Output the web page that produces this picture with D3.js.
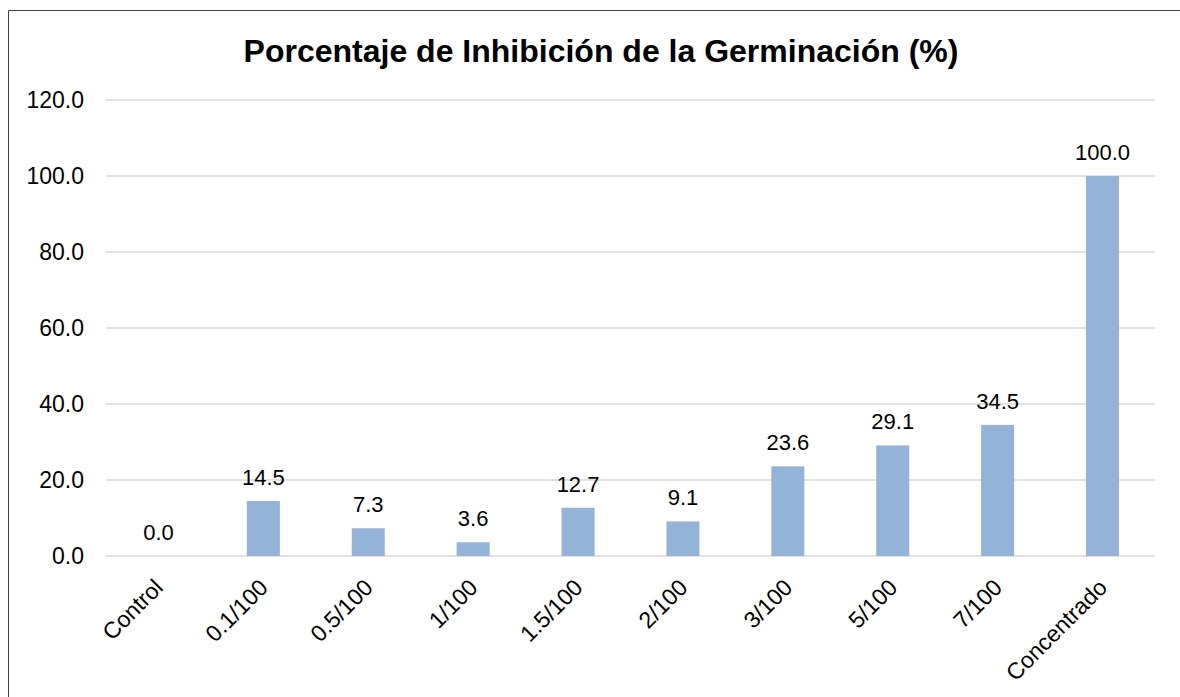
<!DOCTYPE html>
<html>
<head>
<meta charset="utf-8">
<script src="https://cdn.jsdelivr.net/npm/d3@7"></script>
<style>
  html, body { margin: 0; padding: 0; background: #fff; }
  svg { display: block; font-family: Arial, "Liberation Sans", sans-serif; }
</style>
</head>
<body>
<div id="chart"></div>
<script>
// Porcentaje de inhibición
const categories = ['Control', '0.1/100', '0.5/100', '1/100', '1.5/100', '2/100', '3/100', '5/100', '7/100', 'Concentrado'];
const inhibition = [0.0, 14.5, 7.3, 3.6, 12.7, 9.1, 23.6, 29.1, 34.5, 100.0];
const yTicks = [0, 20, 40, 60, 80, 100, 120];
const titleText = 'Porcentaje de Inhibición de la Germinación (%)';

const W = 1180, H = 697;
const margin = { top: 100, right: 25, bottom: 141, left: 106 };

const svg = d3.select('#chart').append('svg')
  .attr('width', W).attr('height', H);

// chart frame (only left and top edges are visible in the crop)
svg.append('path')
  .attr('d', `M8.5,${H} L8.5,10.5 L${W},10.5`)
  .attr('fill', 'none').attr('stroke', '#404040').attr('stroke-width', 1);

svg.append('text')
  .attr('x', 601).attr('y', 62)
  .attr('text-anchor', 'middle')
  .attr('font-size', 32).attr('font-weight', 'bold')
  .attr('fill', '#000')
  .text(titleText);

const x = d3.scaleBand()
  .domain(categories)
  .range([margin.left, W - margin.right])
  .paddingInner(0.685).paddingOuter(0.3425);

const y = d3.scaleLinear()
  .domain([0, 120])
  .range([H - margin.bottom, margin.top]);

// gridlines
svg.append('g')
  .selectAll('line')
  .data(yTicks)
  .join('line')
  .attr('x1', margin.left).attr('x2', W - margin.right)
  .attr('y1', d => y(d)).attr('y2', d => y(d))
  .attr('stroke', '#d9d9d9').attr('stroke-width', 1.5);

// y axis labels
const yAxis = svg.append('g')
  .attr('transform', `translate(${margin.left - 22},0)`)
  .call(d3.axisLeft(y).tickValues(yTicks).tickFormat(d3.format('.1f')).tickSize(0).tickPadding(0));
yAxis.select('.domain').remove();
yAxis.selectAll('text')
  .attr('font-size', 23).attr('fill', '#000')
  .attr('font-family', 'Arial, "Liberation Sans", sans-serif');

// bars
svg.append('g')
  .selectAll('rect')
  .data(inhibition)
  .join('rect')
  .attr('x', (d, i) => x(categories[i]))
  .attr('width', x.bandwidth())
  .attr('y', d => y(d))
  .attr('height', d => y(0) - y(d))
  .attr('fill', '#95b3d7');

// data labels
svg.append('g')
  .selectAll('text')
  .data(inhibition)
  .join('text')
  .attr('x', (d, i) => x(categories[i]) + x.bandwidth() / 2)
  .attr('y', d => y(d) - 16)
  .attr('text-anchor', 'middle')
  .attr('font-size', 22).attr('fill', '#000')
  .text(d => d3.format('.1f')(d));

// x axis labels, rotated
const xAxis = svg.append('g')
  .attr('transform', `translate(0,${y(0)})`)
  .call(d3.axisBottom(x).tickSize(0).tickPadding(0));
xAxis.select('.domain').remove();
xAxis.selectAll('text')
  .attr('font-size', 23).attr('fill', '#000')
  .attr('font-family', 'Arial, "Liberation Sans", sans-serif')
  .attr('text-anchor', 'end')
  .attr('dy', '0')
  .attr('transform', 'translate(6,33) rotate(-45)');
</script>
</body>
</html>
